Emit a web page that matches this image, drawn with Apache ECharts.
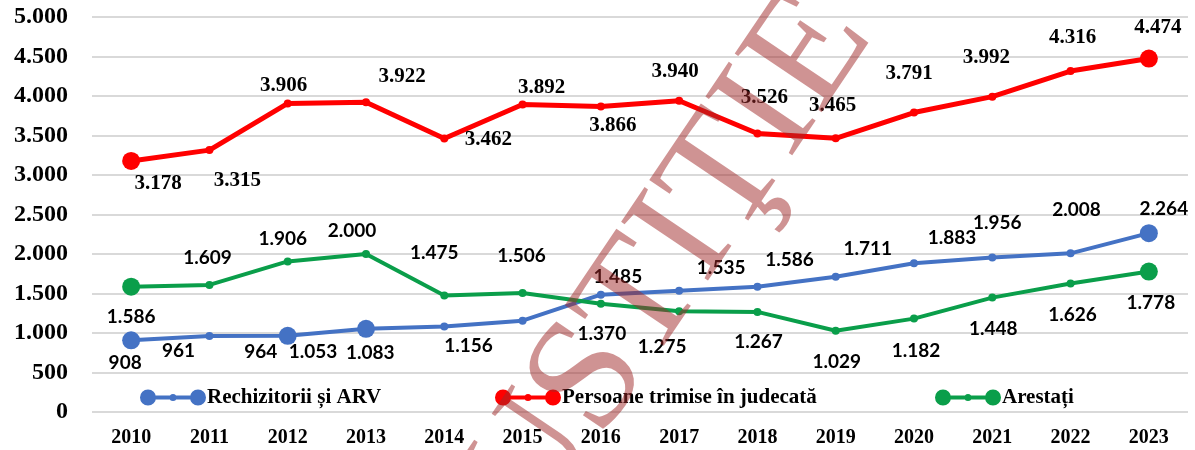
<!DOCTYPE html>
<html>
<head>
<meta charset="utf-8">
<script src="https://cdn.jsdelivr.net/npm/echarts@6/dist/echarts.min.js"></script>
<style>
    html, body { margin: 0; padding: 0; background: #fff; }
    #chart { width: 1195px; height: 450px; }
</style>
</head>
<body>
<div id="chart"></div>
<script>
// data
var years = ['2010', '2011', '2012', '2013', '2014', '2015', '2016', '2017', '2018', '2019', '2020', '2021', '2022', '2023'];
var rechizitorii = [908, 961, 964, 1053, 1083, 1156, 1485, 1535, 1586, 1711, 1883, 1956, 2008, 2264];
var persoane = [3178, 3315, 3906, 3922, 3462, 3892, 3866, 3940, 3526, 3465, 3791, 3992, 4316, 4474];
var arestati = [1586, 1609, 1906, 2000, 1475, 1506, 1370, 1275, 1267, 1029, 1182, 1448, 1626, 1778];

// which points carry a big marker
var bigBlue = [0, 2, 3, 13];
var bigRed = [0, 13];
var bigGreen = [0, 13];

// label offsets from the point (px)
var blueOff = [[-6, 23], [-31, 15], [-27, 16], [-53, 23], [-74, 26], [-54, 25], [17, -18], [42, -23], [32, -27], [32, -28], [38, -25], [5, -35], [6, -43], [15, -24]];
var redOff = [[27, 23], [28, 30], [-4, -18], [36, -26], [44, 1], [19, -17], [12, 19], [-4, -29], [7, -36], [-3, -33], [-5, -39], [-6, -39], [2, -33], [9, -31]];
var greenOff = [[0, 30], [-2, -27], [-5, -23], [-14, -23], [-10, -43], [-1, -37], [1, 30], [-17, 36], [1, 30], [1, 31], [2, 32], [1, 31], [2, 31], [2, 31]];

function fmt(v) {
    return String(v).replace(/\B(?=(\d{3})+(?!\d))/g, '.');
}

function points(values, big, offs) {
    return values.map(function (v, i) {
        return {
            value: v,
            symbolSize: big.indexOf(i) >= 0 ? 18 : 8,
            label: { offset: offs[i] }
        };
    });
}

var legendIcon = 'path://M0,8a8,8 0 1,1 16,0a8,8 0 1,1 -16,0z M50,8a8,8 0 1,1 16,0a8,8 0 1,1 -16,0z M14,6L52,6L52,10L14,10z M29.5,8a3.5,3.5 0 1,1 7,0a3.5,3.5 0 1,1 -7,0z';
var serif = 'Liberation Serif';

function legendAt(name, left) {
    return {
        data: [name],
        left: left,
        top: 387,
        padding: 0,
        icon: legendIcon,
        itemWidth: 66,
        itemHeight: 16,
        itemGap: 0,
        selectedMode: false,
        textStyle: { fontFamily: serif, fontWeight: 'bold', fontSize: 21, color: '#000', padding: [0, 0, 0, -4] }
    };
}

function lineSeries(name, color, width, values, big, offs, labelFont) {
    return {
        name: name,
        type: 'line',
        symbol: 'circle',
        data: points(values, big, offs),
        lineStyle: { color: color, width: width },
        itemStyle: { color: color },
        label: {
            show: true,
            position: 'inside',
            formatter: function (p) { return fmt(p.value); },
            color: '#000',
            fontWeight: 'bold',
            fontFamily: labelFont.family,
            fontSize: labelFont.size
        },
        emphasis: { disabled: true },
        animation: false
    };
}

var chart = echarts.init(document.getElementById('chart'));
chart.setOption({
    backgroundColor: '#fff',
    grid: { left: 92, right: 7, top: 17, bottom: 38 },
    legend: [
        legendAt('Rechizitorii și ARV', 140),
        legendAt('Persoane trimise în judecată', 495),
        legendAt('Arestați', 935)
    ],
    xAxis: {
        type: 'category',
        data: years,
        boundaryGap: true,
        axisLine: { show: false },
        axisTick: { show: false },
        axisLabel: { fontFamily: serif, fontWeight: 'bold', fontSize: 20, color: '#000', margin: 16 }
    },
    yAxis: {
        type: 'value',
        min: 0,
        max: 5000,
        interval: 500,
        axisLine: { show: false },
        axisTick: { show: false },
        splitLine: { lineStyle: { color: '#d9d9d9', width: 2 } },
        axisLabel: {
            fontFamily: serif, fontWeight: 'bold', fontSize: 24, color: '#000', margin: 24,
            formatter: function (v) { return fmt(v); }
        }
    },
    graphic: [{
        type: 'text',
        x: 466,
        y: 564,
        rotation: 56 * Math.PI / 180,
        z: 100,
        silent: true,
        style: {
            text: 'JUSTIŢIE',
            fontFamily: serif,
            fontSize: 160,
            fill: 'rgba(160, 40, 40, 0.5)',
            textAlign: 'left',
            textVerticalAlign: 'middle'
        }
    }],
    series: [
        lineSeries('Persoane trimise în judecată', '#ff0000', 5, persoane, bigRed, redOff, { family: serif, size: 21 }),
        lineSeries('Rechizitorii și ARV', '#4472c4', 4, rechizitorii, bigBlue, blueOff, { family: 'Lato', size: 19 }),
        lineSeries('Arestați', '#0a9e4a', 4, arestati, bigGreen, greenOff, { family: 'Lato', size: 19 })
    ]
});
</script>
</body>
</html>
